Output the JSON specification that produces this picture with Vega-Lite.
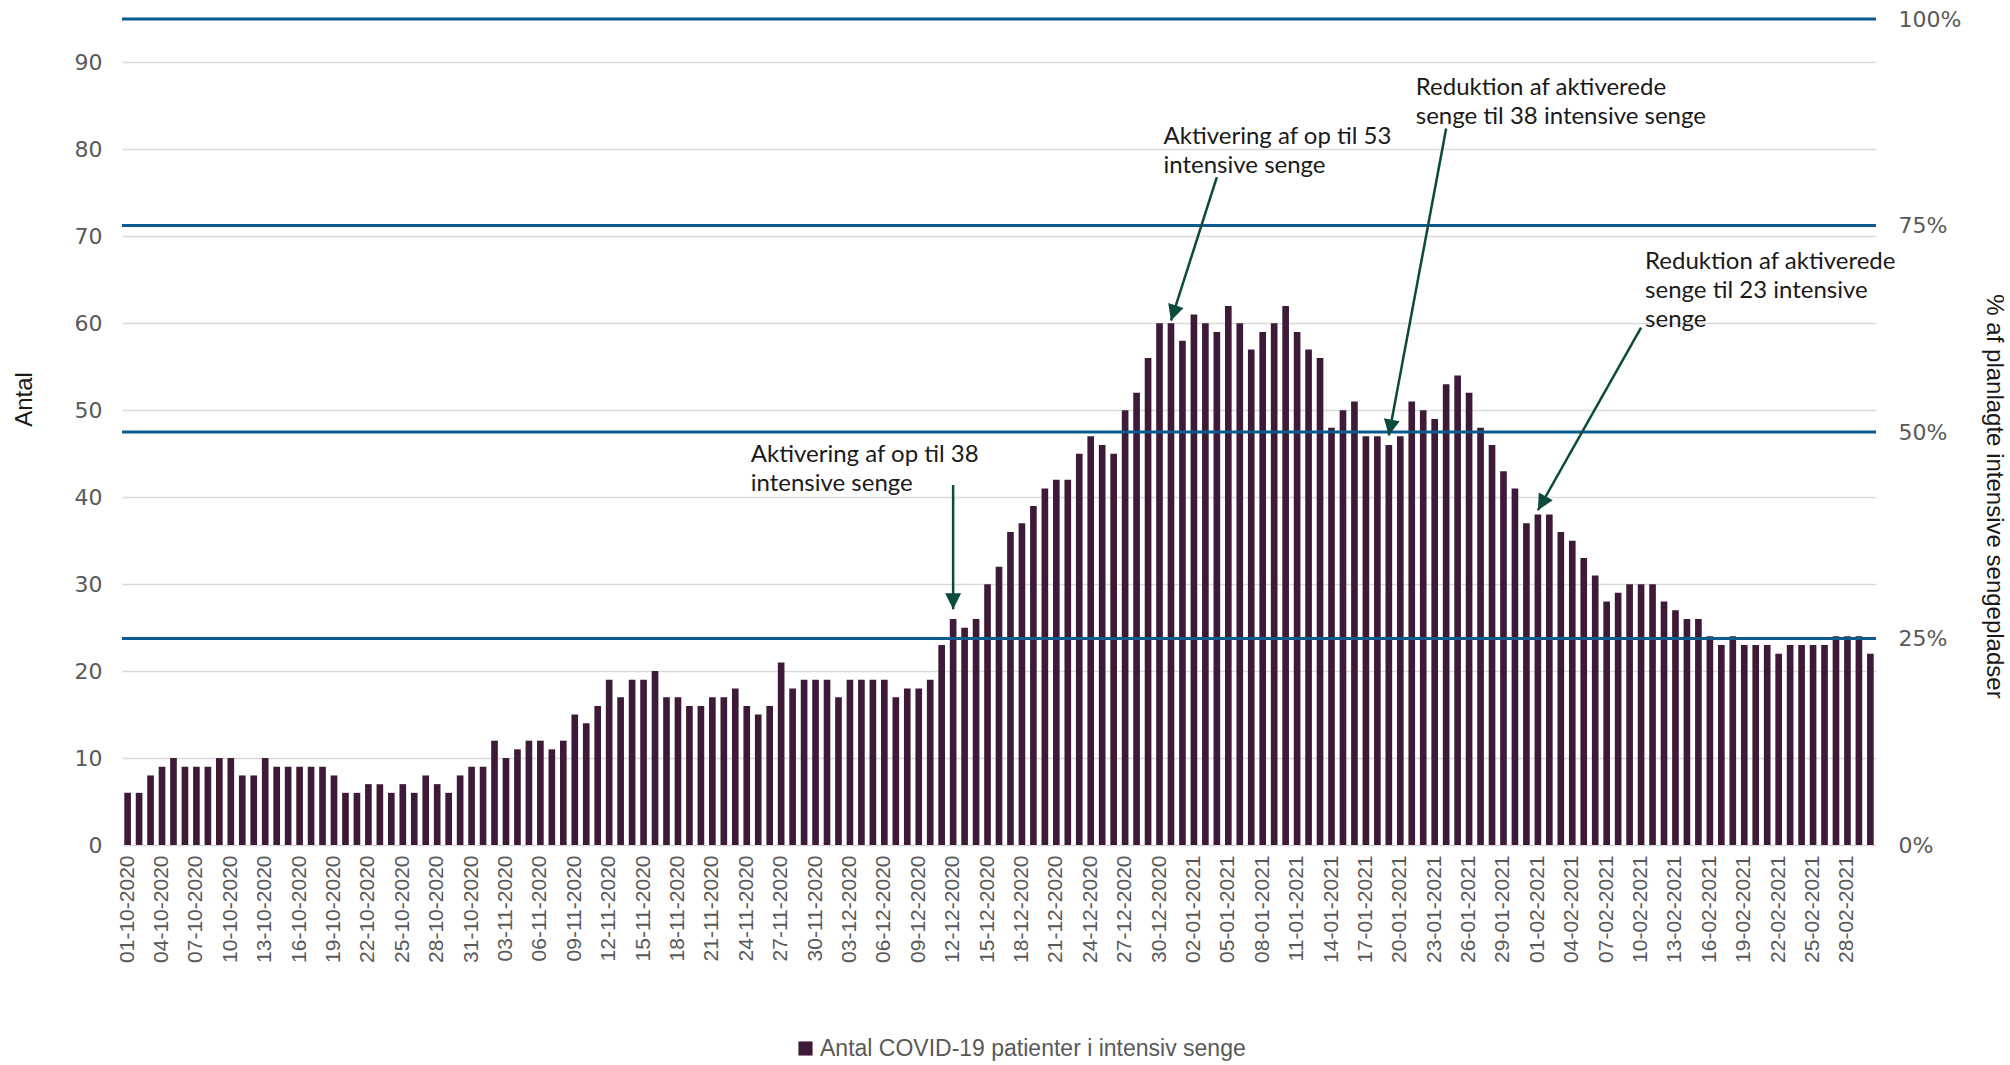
{
  "$schema": "https://vega.github.io/schema/vega-lite/v6.json",
  "width": 1754,
  "height": 826,
  "autosize": {"type": "none"},
  "padding": {"left": 122, "top": 19, "right": 134, "bottom": 220},
  "background": "white",
  "config": {
    "view": {"stroke": null},
    "axis": {"labelColor": "#595959", "titleColor": "#1a1a1a", "titleFontWeight": "normal", "ticks": false, "domain": false}
  },
  "datasets": {
    "beds": [
      {"date": "2020-10-01", "antal": 6}, {"date": "2020-10-02", "antal": 6}, {"date": "2020-10-03", "antal": 8}, {"date": "2020-10-04", "antal": 9},
      {"date": "2020-10-05", "antal": 10}, {"date": "2020-10-06", "antal": 9}, {"date": "2020-10-07", "antal": 9}, {"date": "2020-10-08", "antal": 9},
      {"date": "2020-10-09", "antal": 10}, {"date": "2020-10-10", "antal": 10}, {"date": "2020-10-11", "antal": 8}, {"date": "2020-10-12", "antal": 8},
      {"date": "2020-10-13", "antal": 10}, {"date": "2020-10-14", "antal": 9}, {"date": "2020-10-15", "antal": 9}, {"date": "2020-10-16", "antal": 9},
      {"date": "2020-10-17", "antal": 9}, {"date": "2020-10-18", "antal": 9}, {"date": "2020-10-19", "antal": 8}, {"date": "2020-10-20", "antal": 6},
      {"date": "2020-10-21", "antal": 6}, {"date": "2020-10-22", "antal": 7}, {"date": "2020-10-23", "antal": 7}, {"date": "2020-10-24", "antal": 6},
      {"date": "2020-10-25", "antal": 7}, {"date": "2020-10-26", "antal": 6}, {"date": "2020-10-27", "antal": 8}, {"date": "2020-10-28", "antal": 7},
      {"date": "2020-10-29", "antal": 6}, {"date": "2020-10-30", "antal": 8}, {"date": "2020-10-31", "antal": 9},
      {"date": "2020-11-01", "antal": 9}, {"date": "2020-11-02", "antal": 12}, {"date": "2020-11-03", "antal": 10}, {"date": "2020-11-04", "antal": 11},
      {"date": "2020-11-05", "antal": 12}, {"date": "2020-11-06", "antal": 12}, {"date": "2020-11-07", "antal": 11}, {"date": "2020-11-08", "antal": 12},
      {"date": "2020-11-09", "antal": 15}, {"date": "2020-11-10", "antal": 14}, {"date": "2020-11-11", "antal": 16}, {"date": "2020-11-12", "antal": 19},
      {"date": "2020-11-13", "antal": 17}, {"date": "2020-11-14", "antal": 19}, {"date": "2020-11-15", "antal": 19}, {"date": "2020-11-16", "antal": 20},
      {"date": "2020-11-17", "antal": 17}, {"date": "2020-11-18", "antal": 17}, {"date": "2020-11-19", "antal": 16}, {"date": "2020-11-20", "antal": 16},
      {"date": "2020-11-21", "antal": 17}, {"date": "2020-11-22", "antal": 17}, {"date": "2020-11-23", "antal": 18}, {"date": "2020-11-24", "antal": 16},
      {"date": "2020-11-25", "antal": 15}, {"date": "2020-11-26", "antal": 16}, {"date": "2020-11-27", "antal": 21}, {"date": "2020-11-28", "antal": 18},
      {"date": "2020-11-29", "antal": 19}, {"date": "2020-11-30", "antal": 19},
      {"date": "2020-12-01", "antal": 19}, {"date": "2020-12-02", "antal": 17}, {"date": "2020-12-03", "antal": 19}, {"date": "2020-12-04", "antal": 19},
      {"date": "2020-12-05", "antal": 19}, {"date": "2020-12-06", "antal": 19}, {"date": "2020-12-07", "antal": 17}, {"date": "2020-12-08", "antal": 18},
      {"date": "2020-12-09", "antal": 18}, {"date": "2020-12-10", "antal": 19}, {"date": "2020-12-11", "antal": 23}, {"date": "2020-12-12", "antal": 26},
      {"date": "2020-12-13", "antal": 25}, {"date": "2020-12-14", "antal": 26}, {"date": "2020-12-15", "antal": 30}, {"date": "2020-12-16", "antal": 32},
      {"date": "2020-12-17", "antal": 36}, {"date": "2020-12-18", "antal": 37}, {"date": "2020-12-19", "antal": 39}, {"date": "2020-12-20", "antal": 41},
      {"date": "2020-12-21", "antal": 42}, {"date": "2020-12-22", "antal": 42}, {"date": "2020-12-23", "antal": 45}, {"date": "2020-12-24", "antal": 47},
      {"date": "2020-12-25", "antal": 46}, {"date": "2020-12-26", "antal": 45}, {"date": "2020-12-27", "antal": 50}, {"date": "2020-12-28", "antal": 52},
      {"date": "2020-12-29", "antal": 56}, {"date": "2020-12-30", "antal": 60}, {"date": "2020-12-31", "antal": 60},
      {"date": "2021-01-01", "antal": 58}, {"date": "2021-01-02", "antal": 61}, {"date": "2021-01-03", "antal": 60}, {"date": "2021-01-04", "antal": 59},
      {"date": "2021-01-05", "antal": 62}, {"date": "2021-01-06", "antal": 60}, {"date": "2021-01-07", "antal": 57}, {"date": "2021-01-08", "antal": 59},
      {"date": "2021-01-09", "antal": 60}, {"date": "2021-01-10", "antal": 62}, {"date": "2021-01-11", "antal": 59}, {"date": "2021-01-12", "antal": 57},
      {"date": "2021-01-13", "antal": 56}, {"date": "2021-01-14", "antal": 48}, {"date": "2021-01-15", "antal": 50}, {"date": "2021-01-16", "antal": 51},
      {"date": "2021-01-17", "antal": 47}, {"date": "2021-01-18", "antal": 47}, {"date": "2021-01-19", "antal": 46}, {"date": "2021-01-20", "antal": 47},
      {"date": "2021-01-21", "antal": 51}, {"date": "2021-01-22", "antal": 50}, {"date": "2021-01-23", "antal": 49}, {"date": "2021-01-24", "antal": 53},
      {"date": "2021-01-25", "antal": 54}, {"date": "2021-01-26", "antal": 52}, {"date": "2021-01-27", "antal": 48}, {"date": "2021-01-28", "antal": 46},
      {"date": "2021-01-29", "antal": 43}, {"date": "2021-01-30", "antal": 41}, {"date": "2021-01-31", "antal": 37},
      {"date": "2021-02-01", "antal": 38}, {"date": "2021-02-02", "antal": 38}, {"date": "2021-02-03", "antal": 36}, {"date": "2021-02-04", "antal": 35},
      {"date": "2021-02-05", "antal": 33}, {"date": "2021-02-06", "antal": 31}, {"date": "2021-02-07", "antal": 28}, {"date": "2021-02-08", "antal": 29},
      {"date": "2021-02-09", "antal": 30}, {"date": "2021-02-10", "antal": 30}, {"date": "2021-02-11", "antal": 30}, {"date": "2021-02-12", "antal": 28},
      {"date": "2021-02-13", "antal": 27}, {"date": "2021-02-14", "antal": 26}, {"date": "2021-02-15", "antal": 26}, {"date": "2021-02-16", "antal": 24},
      {"date": "2021-02-17", "antal": 23}, {"date": "2021-02-18", "antal": 24}, {"date": "2021-02-19", "antal": 23}, {"date": "2021-02-20", "antal": 23},
      {"date": "2021-02-21", "antal": 23}, {"date": "2021-02-22", "antal": 22}, {"date": "2021-02-23", "antal": 23}, {"date": "2021-02-24", "antal": 23},
      {"date": "2021-02-25", "antal": 23}, {"date": "2021-02-26", "antal": 23}, {"date": "2021-02-27", "antal": 24}, {"date": "2021-02-28", "antal": 24},
      {"date": "2021-03-01", "antal": 24}, {"date": "2021-03-02", "antal": 22}
    ],
    "levels": [{"pct": 0.25}, {"pct": 0.5}, {"pct": 0.75}, {"pct": 1}],
    "notes": [
      {"label": ["Aktivering af op til 38", "intensive senge"], "date": "2020-11-24", "y": 44.0},
      {"label": ["Aktivering af op til 53", "intensive senge"], "date": "2020-12-30", "y": 80.6},
      {"label": ["Reduktion af aktiverede", "senge til 38 intensive senge"], "date": "2021-01-21", "y": 86.3},
      {"label": ["Reduktion af aktiverede", "senge til 23 intensive", "senge"], "date": "2021-02-10", "y": 66.2}
    ],
    "arrows": [
      {"id": "A1", "from": "2020-12-12", "y_from": 41.4, "to": "2020-12-12", "y_to": 27.1},
      {"id": "A2", "from": "2021-01-04", "y_from": 76.8, "to": "2020-12-31", "y_to": 60.3},
      {"id": "A3", "from": "2021-01-24", "y_from": 82.4, "to": "2021-01-19", "y_to": 47.1},
      {"id": "A4", "from": "2021-02-10", "y_from": 59.5, "to": "2021-02-01", "y_to": 38.5}
    ]
  },
  "layer": [
    {
      "data": {"name": "beds"},
      "mark": {"type": "bar"},
      "encoding": {
        "x": {
          "field": "date", "type": "ordinal", "title": null,
          "scale": {"paddingInner": 0.42, "paddingOuter": 0.2},
          "axis": {
            "values": ["2020-10-01","2020-10-04","2020-10-07","2020-10-10","2020-10-13","2020-10-16","2020-10-19","2020-10-22","2020-10-25","2020-10-28","2020-10-31",
                       "2020-11-03","2020-11-06","2020-11-09","2020-11-12","2020-11-15","2020-11-18","2020-11-21","2020-11-24","2020-11-27","2020-11-30",
                       "2020-12-03","2020-12-06","2020-12-09","2020-12-12","2020-12-15","2020-12-18","2020-12-21","2020-12-24","2020-12-27","2020-12-30",
                       "2021-01-02","2021-01-05","2021-01-08","2021-01-11","2021-01-14","2021-01-17","2021-01-20","2021-01-23","2021-01-26","2021-01-29",
                       "2021-02-01","2021-02-04","2021-02-07","2021-02-10","2021-02-13","2021-02-16","2021-02-19","2021-02-22","2021-02-25","2021-02-28"],
            "labelExpr": "slice(datum.value, 8, 10) + '-' + slice(datum.value, 5, 7) + '-' + slice(datum.value, 0, 4)",
            "labelAngle": -90, "labelFont": "Liberation Sans", "labelFontSize": 21, "labelPadding": 10,
            "labelOverlap": false, "grid": false
          }
        },
        "y": {
          "field": "antal", "type": "quantitative",
          "scale": {"domain": [0, 95], "nice": false},
          "axis": {
            "orient": "left", "values": [0, 10, 20, 30, 40, 50, 60, 70, 80, 90],
            "grid": true, "gridColor": "#D9D9D9", "gridWidth": 1.5,
            "labelFont": "DejaVu Sans", "labelFontSize": 22, "labelPadding": 20,
            "title": "Antal", "titleFont": "Liberation Sans", "titleFontSize": 24,
            "titleAngle": -90, "titleX": -98, "titleY": 380, "titleAlign": "center", "titleBaseline": "middle"
          }
        },
        "color": {
          "datum": "Antal COVID-19 patienter i intensiv senge",
          "scale": {"range": ["#3D1A37"]},
          "legend": {
            "title": null, "orient": "none", "legendX": 672, "legendY": 1018,
            "symbolType": "square", "symbolSize": 200, "symbolStrokeWidth": 0,
            "labelFont": "Liberation Sans", "labelFontSize": 23, "labelColor": "#595959",
            "labelOffset": 3, "labelLimit": 0, "padding": 0
          }
        }
      }
    },
    {
      "data": {"name": "levels"},
      "mark": {"type": "rule", "color": "#0B5C8C", "strokeWidth": 3},
      "encoding": {
        "y": {
          "field": "pct", "type": "quantitative",
          "scale": {"domain": [0, 1], "nice": false},
          "axis": {
            "orient": "right", "values": [0, 0.25, 0.5, 0.75, 1], "format": ".0%", "grid": false,
            "labelFont": "DejaVu Sans", "labelFontSize": 22, "labelPadding": 22,
            "title": "% af planlagte intensive sengepladser", "titleFont": "Liberation Sans", "titleFontSize": 24,
            "titleAngle": 90, "titleX": 117, "titleY": 477, "titleAlign": "center", "titleBaseline": "middle"
          }
        }
      }
    },
    {
      "data": {"name": "notes"},
      "mark": {"type": "text", "align": "left", "baseline": "alphabetic", "font": "Lato", "fontSize": 24, "lineHeight": 29, "color": "#1a1a1a", "dx": 4},
      "encoding": {
        "x": {"field": "date", "type": "ordinal", "title": null},
        "y": {"field": "y", "type": "quantitative", "scale": {"domain": [0, 95], "nice": false}, "axis": null},
        "text": {"field": "label"}
      }
    },
    {
      "data": {"name": "arrows"},
      "mark": {"type": "rule", "color": "#0B4A3C", "strokeWidth": 2.5},
      "encoding": {
        "x": {"field": "from", "type": "ordinal", "title": null},
        "x2": {"field": "to"},
        "y": {"field": "y_from", "type": "quantitative", "scale": {"domain": [0, 95], "nice": false}, "axis": null},
        "y2": {"field": "y_to"}
      }
    },
    {
      "data": {"name": "arrows"},
      "transform": [{"filter": "datum.id == 'A1'"}],
      "mark": {"type": "point", "shape": "M0,0L-0.5,-1L0.5,-1Z", "filled": true, "size": 1024, "angle": 0, "color": "#0B4A3C", "opacity": 1, "strokeWidth": 0},
      "encoding": {
        "x": {"field": "to", "type": "ordinal", "title": null},
        "y": {"field": "y_to", "type": "quantitative", "scale": {"domain": [0, 95], "nice": false}, "axis": null}
      }
    },
    {
      "data": {"name": "arrows"},
      "transform": [{"filter": "datum.id == 'A2'"}],
      "mark": {"type": "point", "shape": "M0,0L-0.5,-1L0.5,-1Z", "filled": true, "size": 1024, "angle": 17.7, "color": "#0B4A3C", "opacity": 1, "strokeWidth": 0},
      "encoding": {
        "x": {"field": "to", "type": "ordinal", "title": null},
        "y": {"field": "y_to", "type": "quantitative", "scale": {"domain": [0, 95], "nice": false}, "axis": null}
      }
    },
    {
      "data": {"name": "arrows"},
      "transform": [{"filter": "datum.id == 'A3'"}],
      "mark": {"type": "point", "shape": "M0,0L-0.5,-1L0.5,-1Z", "filled": true, "size": 1024, "angle": 10.6, "color": "#0B4A3C", "opacity": 1, "strokeWidth": 0},
      "encoding": {
        "x": {"field": "to", "type": "ordinal", "title": null},
        "y": {"field": "y_to", "type": "quantitative", "scale": {"domain": [0, 95], "nice": false}, "axis": null}
      }
    },
    {
      "data": {"name": "arrows"},
      "transform": [{"filter": "datum.id == 'A4'"}],
      "mark": {"type": "point", "shape": "M0,0L-0.5,-1L0.5,-1Z", "filled": true, "size": 1024, "angle": 29.5, "color": "#0B4A3C", "opacity": 1, "strokeWidth": 0},
      "encoding": {
        "x": {"field": "to", "type": "ordinal", "title": null},
        "y": {"field": "y_to", "type": "quantitative", "scale": {"domain": [0, 95], "nice": false}, "axis": null}
      }
    }
  ],
  "resolve": {"scale": {"y": "independent"}}
}
